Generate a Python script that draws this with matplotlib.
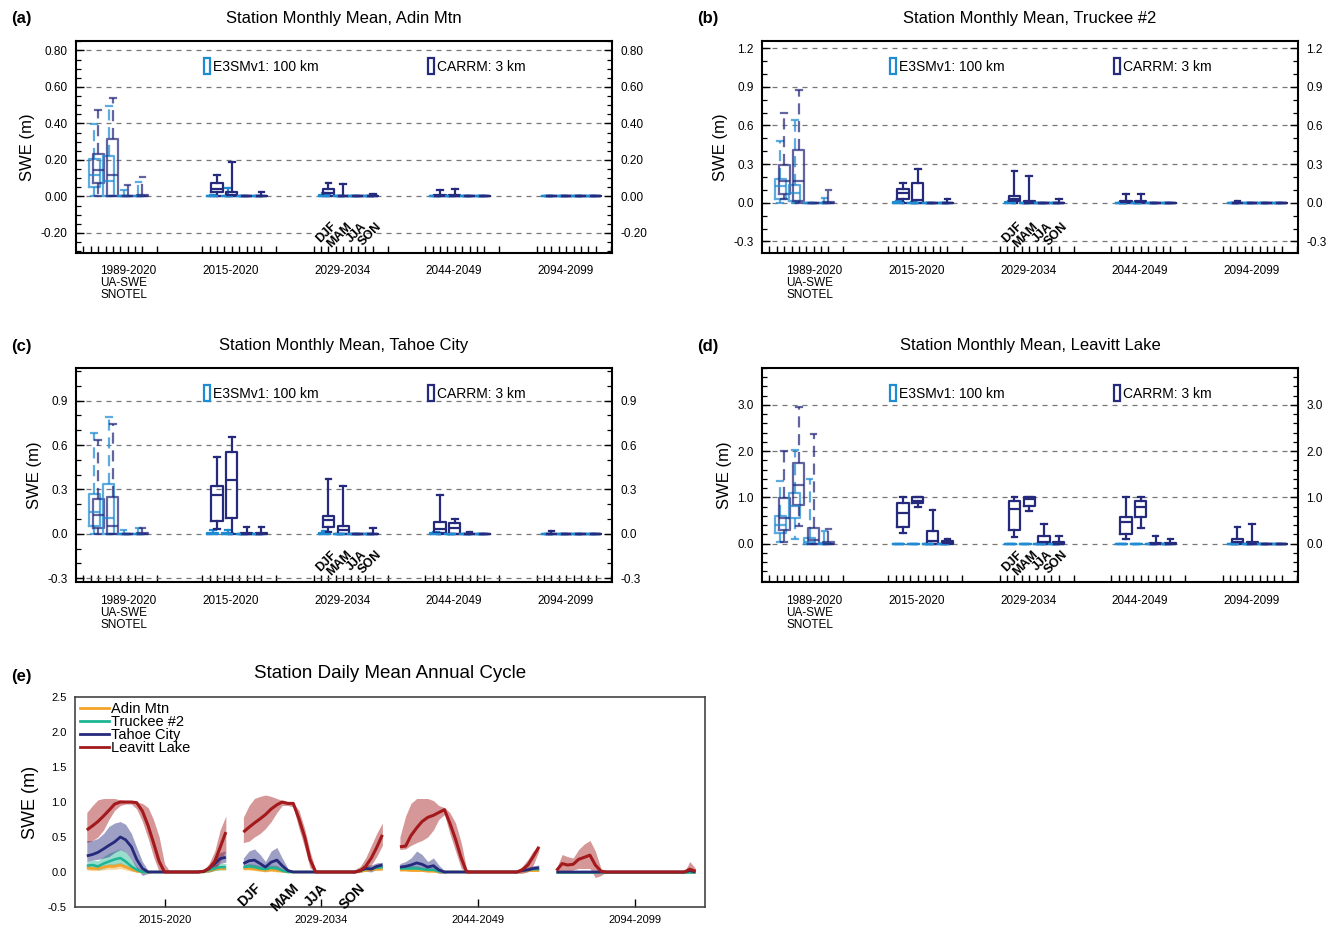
import matplotlib
matplotlib.use('Agg')
import matplotlib.pyplot as plt
from matplotlib.patches import Patch
from matplotlib.lines import Line2D
from matplotlib.legend import Legend
import matplotlib.ticker as mt
from matplotlib.transforms import blended_transform_factory

plt.rcParams['font.family'] = ['Liberation Sans', 'DejaVu Sans']

# ---------------- data ----------------
SEASONS = ["DJF", "MAM", "JJA", "SON"]
PERIOD_LABELS = ["1989-2020\nUA-SWE\nSNOTEL", "2015-2020", "2029-2034", "2044-2049", "2094-2099"]
LINE_PERIODS = ["2015-2020", "2029-2034", "2044-2049", "2094-2099"]

# box stats per period (5) x season (4): [whisker_lo, q1, median, q3, whisker_hi]
# period 0: E3SM column = UA-SWE, CARRM column = SNOTEL
ADIN_E3SM = [
    [[0, .05, .115, .205, .396], [0, 0, .087, .224, .496], [0, 0, 0, 0, .033], [0, 0, 0, .005, .078]],
    [[0, 0, 0, .005, .01], [0, 0, 0, .005, .047], [0, 0, 0, 0, 0], [0, 0, 0, 0, 0]],
    [[0, 0, 0, .01, .02], [0, 0, 0, 0, 0], [0, 0, 0, 0, 0], [0, 0, 0, 0, 0]],
    [[0, 0, 0, 0, .005], [0, 0, 0, 0, 0], [0, 0, 0, 0, 0], [0, 0, 0, 0, 0]],
    [[0, 0, 0, 0, 0], [0, 0, 0, 0, 0], [0, 0, 0, 0, 0], [0, 0, 0, 0, 0]],
]
ADIN_CARRM = [
    [[0, .073, .147, .23, .473], [0, 0, .115, .316, .54], [0, 0, 0, 0, .065], [0, 0, 0, .01, .105]],
    [[0, .024, .042, .073, .12], [0, 0, .009, .024, .187], [0, 0, 0, 0, 0], [0, 0, 0, 0, .022]],
    [[0, .002, .02, .043, .074], [0, 0, 0, .005, .07], [0, 0, 0, 0, 0], [0, 0, 0, 0, .011]],
    [[0, 0, .003, .01, .037], [0, 0, .002, .008, .043], [0, 0, 0, 0, 0], [0, 0, 0, 0, 0]],
    [[0, 0, 0, 0, 0], [0, 0, 0, 0, 0], [0, 0, 0, 0, 0], [0, 0, 0, 0, 0]],
]
TRUCKEE_E3SM = [
    [[0, .026, .128, .184, .48], [0, .013, .077, .14, .643], [0, 0, 0, 0, 0], [0, 0, 0, 0, .038]],
    [[0, 0, 0, .005, .01], [0, 0, 0, 0, .005], [0, 0, 0, 0, 0], [0, 0, 0, 0, 0]],
    [[0, 0, 0, .005, .01], [0, 0, 0, 0, 0], [0, 0, 0, 0, 0], [0, 0, 0, 0, 0]],
    [[0, 0, 0, 0, 0], [0, 0, 0, 0, 0], [0, 0, 0, 0, 0], [0, 0, 0, 0, 0]],
    [[0, 0, 0, 0, 0], [0, 0, 0, 0, 0], [0, 0, 0, 0, 0], [0, 0, 0, 0, 0]],
]
TRUCKEE_CARRM = [
    [[.026, .071, .166, .294, .694], [0, .013, .171, .408, .873], [0, 0, 0, 0, 0], [0, 0, 0, .005, .097]],
    [[0, .033, .077, .107, .153], [0, 0, .02, .15, .26], [0, 0, 0, 0, 0], [0, 0, 0, 0, .03]],
    [[0, .01, .03, .056, .243], [0, 0, 0, .01, .204], [0, 0, 0, 0, 0], [0, 0, 0, 0, .03]],
    [[0, 0, .005, .015, .07], [0, 0, .003, .01, .07], [0, 0, 0, 0, 0], [0, 0, 0, 0, 0]],
    [[0, 0, 0, 0, .01], [0, 0, 0, 0, 0], [0, 0, 0, 0, 0], [0, 0, 0, 0, 0]],
]
TAHOE_E3SM = [
    [[0, .052, .147, .267, .683], [0, 0, .106, .339, .79], [0, 0, 0, 0, .027], [0, 0, 0, 0, .04]],
    [[0, 0, 0, .005, .023], [0, 0, 0, .003, .027], [0, 0, 0, 0, 0], [0, 0, 0, 0, 0]],
    [[0, 0, 0, .003, .018], [0, 0, 0, 0, 0], [0, 0, 0, 0, 0], [0, 0, 0, 0, 0]],
    [[0, 0, 0, .005, .01], [0, 0, 0, 0, 0], [0, 0, 0, 0, 0], [0, 0, 0, 0, 0]],
    [[0, 0, 0, 0, 0], [0, 0, 0, 0, 0], [0, 0, 0, 0, 0], [0, 0, 0, 0, 0]],
]
TAHOE_CARRM = [
    [[0, .041, .129, .238, .633], [0, 0, .052, .247, .742], [0, 0, 0, 0, 0], [0, 0, 0, .005, .04]],
    [[.034, .09, .26, .321, .516], [0, .109, .367, .55, .652], [0, 0, 0, .005, .045], [0, 0, 0, .005, .045]],
    [[.011, .045, .095, .124, .373], [0, 0, .023, .05, .32], [0, 0, 0, 0, 0], [0, 0, 0, 0, .04]],
    [[0, .005, .03, .08, .26], [0, 0, .04, .075, .1], [0, 0, 0, 0, .01], [0, 0, 0, 0, 0]],
    [[0, 0, 0, 0, .02], [0, 0, 0, 0, 0], [0, 0, 0, 0, 0], [0, 0, 0, 0, 0]],
]
LEAVITT_E3SM = [
    [[.03, .23, .41, .6, 1.35], [.095, .56, .82, 1.09, 2.03], [0, 0, .04, .13, 1.4], [0, 0, 0, .02, .28]],
    [[0, 0, 0, 0, 0], [0, 0, 0, 0, 0], [0, 0, 0, 0, 0], [0, 0, 0, 0, 0]],
    [[0, 0, 0, 0, 0], [0, 0, 0, 0, 0], [0, 0, 0, 0, 0], [0, 0, 0, 0, 0]],
    [[0, 0, 0, 0, 0], [0, 0, 0, 0, 0], [0, 0, 0, 0, 0], [0, 0, 0, 0, 0]],
    [[0, 0, 0, 0, 0], [0, 0, 0, 0, 0], [0, 0, 0, 0, 0], [0, 0, 0, 0, 0]],
]
LEAVITT_CARRM = [
    [[.045, .3, .56, .985, 2.0], [.375, .84, 1.27, 1.75, 2.95], [0, 0, .07, .34, 2.38], [0, 0, 0, .04, .32]],
    [[.22, .37, .67, .87, 1.0], [.8, .88, .93, 1.0, 1.0], [0, 0, .05, .27, .73], [0, 0, .01, .05, .1]],
    [[.14, .285, .746, .93, 1.0], [.7, .81, .97, 1.0, 1.0], [0, 0, .03, .16, .42], [0, 0, 0, .04, .17]],
    [[.11, .2, .47, .585, 1.0], [.34, .585, .8, .93, 1.0], [0, 0, 0, .01, .175], [0, 0, 0, .01, .1]],
    [[0, 0, .03, .095, .36], [0, 0, 0, .03, .42], [0, 0, 0, 0, 0], [0, 0, 0, 0, 0]],
]

# daily annual cycle: sample day of the period-year, and per period (4) mean / lower / upper
DAYS = [0, 15, 29, 44, 58, 73, 88, 102, 117, 131, 146, 161, 175, 190, 204, 219, 234, 248, 263, 277,
        292, 307, 321, 336, 350, 365]

ADIN_MEAN = [
    [.06, .05, .05, .07, .08, .08, .10, .07, .04, .01, 0, 0, 0, 0, 0, 0, 0, 0, 0, 0, 0, 0, .02, .04, .05, .05],
    [.05, .05, .04, .03, .02, .03, .02, .01, 0, 0, 0, 0, 0, 0, 0, 0, 0, 0, 0, 0, 0, .01, .02, .03, .04, .04],
    [.03, .03, .02, .02, .02, .01, .01, 0, 0, 0, 0, 0, 0, 0, 0, 0, 0, 0, 0, 0, 0, 0, .01, .02, .02, .02],
    [0, 0, 0, 0, 0, 0, 0, 0, 0, 0, 0, 0, 0, 0, 0, 0, 0, 0, 0, 0, 0, 0, 0, 0, 0, 0],
]
ADIN_LO = [
    [.03, .02, .02, .03, .04, .04, .05, .03, .01, 0, 0, 0, 0, 0, 0, 0, 0, 0, 0, 0, 0, 0, 0, .02, .03, .03],
    [.03, .03, .02, .01, 0, .01, 0, 0, 0, 0, 0, 0, 0, 0, 0, 0, 0, 0, 0, 0, 0, 0, .01, .02, .02, .02],
    [.01, .01, .01, .01, .01, 0, 0, 0, 0, 0, 0, 0, 0, 0, 0, 0, 0, 0, 0, 0, 0, 0, 0, .01, .01, .01],
    [0, 0, 0, 0, 0, 0, 0, 0, 0, 0, 0, 0, 0, 0, 0, 0, 0, 0, 0, 0, 0, 0, 0, 0, 0, 0],
]
ADIN_HI = [
    [.09, .08, .08, .10, .12, .12, .14, .10, .07, .03, .01, 0, 0, 0, 0, 0, 0, 0, 0, 0, 0, 0, .04, .06, .07, .07],
    [.07, .07, .06, .05, .04, .05, .04, .02, .01, 0, 0, 0, 0, 0, 0, 0, 0, 0, 0, 0, 0, .02, .03, .04, .05, .05],
    [.05, .05, .04, .04, .04, .03, .03, .01, 0, 0, 0, 0, 0, 0, 0, 0, 0, 0, 0, 0, 0, 0, .02, .03, .03, .03],
    [0, 0, 0, 0, 0, 0, 0, 0, 0, 0, 0, 0, 0, 0, 0, 0, 0, 0, 0, 0, 0, 0, 0, 0, 0, 0],
]
TRUCKEE_MEAN = [
    [.09, .10, .08, .12, .15, .18, .20, .15, .08, .03, 0, 0, 0, 0, 0, 0, 0, 0, 0, 0, 0, 0, .03, .05, .07, .07],
    [.07, .08, .07, .05, .04, .06, .05, .02, 0, 0, 0, 0, 0, 0, 0, 0, 0, 0, 0, 0, 0, .02, .04, .05, .06, .07],
    [.05, .05, .05, .05, .04, .03, .03, .01, 0, 0, 0, 0, 0, 0, 0, 0, 0, 0, 0, 0, 0, 0, .02, .03, .04, .04],
    [0, 0, 0, 0, 0, 0, 0, 0, 0, 0, 0, 0, 0, 0, 0, 0, 0, 0, 0, 0, 0, 0, 0, 0, 0, 0],
]
TRUCKEE_LO = [
    [.04, .05, .03, .05, .08, .10, .10, .07, .02, 0, 0, 0, 0, 0, 0, 0, 0, 0, 0, 0, 0, 0, 0, .02, .03, .03],
    [.04, .05, .04, .02, .01, .03, .02, 0, 0, 0, 0, 0, 0, 0, 0, 0, 0, 0, 0, 0, 0, 0, .02, .03, .03, .04],
    [.03, .03, .03, .03, .02, .01, .01, 0, 0, 0, 0, 0, 0, 0, 0, 0, 0, 0, 0, 0, 0, 0, 0, .01, .02, .02],
    [0, 0, 0, 0, 0, 0, 0, 0, 0, 0, 0, 0, 0, 0, 0, 0, 0, 0, 0, 0, 0, 0, 0, 0, 0, 0],
]
TRUCKEE_HI = [
    [.15, .17, .16, .22, .27, .30, .33, .28, .18, .08, .02, 0, 0, 0, 0, 0, 0, 0, 0, 0, 0, 0, .06, .10, .12, .12],
    [.10, .12, .11, .09, .08, .10, .09, .05, .01, 0, 0, 0, 0, 0, 0, 0, 0, 0, 0, 0, 0, .04, .07, .08, .09, .10],
    [.08, .08, .09, .09, .07, .06, .06, .03, .01, 0, 0, 0, 0, 0, 0, 0, 0, 0, 0, 0, 0, 0, .04, .05, .06, .06],
    [0, 0, 0, 0, 0, 0, 0, 0, 0, 0, 0, 0, 0, 0, 0, 0, 0, 0, 0, 0, 0, 0, 0, 0, 0, 0],
]
TAHOE_MEAN = [
    [.23, .25, .28, .33, .38, .43, .50, .46, .36, .18, .05, 0, 0, 0, 0, 0, 0, 0, 0, 0, 0, .01, .05, .12, .19, .21],
    [.12, .16, .17, .12, .07, .14, .17, .09, .02, 0, 0, 0, 0, 0, 0, 0, 0, 0, 0, 0, 0, .02, .05, .04, .08, .10],
    [.07, .08, .10, .13, .11, .07, .09, .03, 0, 0, 0, 0, 0, 0, 0, 0, 0, 0, 0, 0, 0, 0, .02, .03, .05, .06],
    [0, 0, 0, 0, 0, 0, 0, 0, 0, 0, 0, 0, 0, 0, 0, 0, 0, 0, 0, 0, 0, 0, 0, 0, .02, 0],
]
TAHOE_LO = [
    [.15, .17, .18, .20, .22, .28, .32, .28, .18, .05, -.05, -.02, 0, 0, 0, 0, 0, 0, 0, 0, 0, 0, .02, .06, .12, .14],
    [.06, .08, .08, .05, .02, .06, .06, .03, 0, 0, 0, 0, 0, 0, 0, 0, 0, 0, 0, 0, 0, 0, .01, 0, .04, .06],
    [.02, .03, .04, .05, .04, .01, .02, -.02, -.02, 0, 0, 0, 0, 0, 0, 0, 0, 0, 0, 0, 0, 0, 0, .01, .02, .03],
    [0, 0, 0, 0, 0, 0, 0, 0, 0, 0, 0, 0, 0, 0, 0, 0, 0, 0, 0, 0, 0, 0, 0, 0, -.01, 0],
]
TAHOE_HI = [
    [.45, .45, .48, .55, .65, .70, .72, .68, .55, .35, .15, .02, 0, 0, 0, 0, 0, 0, 0, 0, 0, .03, .10, .20, .28, .30],
    [.20, .30, .33, .25, .15, .30, .35, .20, .05, 0, 0, 0, 0, 0, 0, 0, 0, 0, 0, 0, 0, .05, .10, .10, .13, .14],
    [.12, .15, .20, .30, .25, .15, .20, .10, .02, 0, 0, 0, 0, 0, 0, 0, 0, 0, 0, 0, 0, 0, .05, .07, .09, .10],
    [0, 0, 0, 0, 0, 0, 0, 0, 0, 0, 0, 0, 0, 0, 0, 0, 0, 0, 0, 0, 0, 0, 0, 0, .05, .02],
]
LEAVITT_MEAN = [
    [.60, .66, .72, .80, .88, .97, 1.0, 1.0, 1.0, .99, .87, .66, .42, .15, 0, 0, 0, 0, 0, 0, 0, .01, .05, .15, .35, .57],
    [.57, .64, .70, .76, .82, .90, .96, 1.0, .98, .98, .76, .50, .18, 0, 0, 0, 0, 0, 0, 0, 0, .02, .08, .20, .35, .53],
    [.36, .37, .52, .63, .72, .78, .81, .85, .89, .70, .47, .20, 0, 0, 0, 0, 0, 0, 0, 0, 0, 0, .03, .10, .22, .36],
    [.02, .12, .10, .11, .18, .21, .24, .10, .01, 0, 0, 0, 0, 0, 0, 0, 0, 0, 0, 0, 0, 0, 0, 0, .04, .01],
]
LEAVITT_LO = [
    [.42, .45, .50, .60, .75, .88, .95, .97, .97, .90, .72, .48, .22, 0, 0, 0, 0, 0, 0, 0, 0, 0, 0, .03, .15, .30],
    [.42, .44, .50, .55, .62, .72, .85, .95, .95, .93, .62, .35, .06, 0, 0, 0, 0, 0, 0, 0, -.02, 0, .02, .10, .22, .38],
    [.32, .33, .38, .42, .45, .50, .60, .75, .82, .55, .30, .05, 0, 0, 0, 0, 0, 0, 0, 0, 0, -.02, -.02, 0, .10, .30],
    [0, .02, 0, .03, .05, .05, .05, -.08, -.05, 0, 0, 0, 0, 0, 0, 0, 0, 0, 0, 0, 0, 0, 0, 0, -.02, -.01],
]
LEAVITT_HI = [
    [.85, .95, 1.03, 1.05, 1.05, 1.05, 1.03, 1.02, 1.01, 1.0, .98, .92, .75, .50, .12, 0, 0, 0, 0, 0, 0, .03, .12, .30, .60, .80],
    [.78, .95, 1.05, 1.08, 1.10, 1.08, 1.05, 1.02, 1.0, .99, .88, .62, .30, .02, 0, 0, 0, 0, 0, 0, .03, .08, .20, .38, .55, .70],
    [.50, .80, .98, 1.05, 1.05, 1.05, 1.02, .95, .92, .85, .70, .42, .05, 0, 0, 0, 0, 0, 0, 0, 0, .02, .08, .18, .30, .38],
    [.05, .25, .22, .20, .32, .40, .45, .30, .05, 0, 0, 0, 0, 0, 0, 0, 0, 0, 0, 0, 0, 0, 0, 0, .15, .05],
]

# ---------------- style ----------------
C_E3SM = '#1f8bd3'
C_CARRM = '#262a7c'
C_ADIN = '#f5a328'
C_TRUCKEE = '#1db594'
C_TAHOE = '#262a7c'
C_LEAVITT = '#a3191c'

W, H = 1341, 926
fig = plt.figure(figsize=(W / 100, H / 100), dpi=100)


def ax_px(x0, y0, x1, y1):
    return fig.add_axes([x0 / W, 1 - y1 / H, (x1 - x0) / W, (y1 - y0) / H])


GROUP_START = [1.0, 17.1, 32.2, 47.3, 62.4]
XMAX = 72.6
BOXW = 1.5
E3SM_OFF = -0.55


def box_panel(ax, e3sm, carrm, ylim, major, minor, fmt, title, letter, lpos):
    ax.set_xlim(0, XMAX)
    ax.set_ylim(*ylim)
    ax.set_axisbelow(True)
    ax.yaxis.set_major_locator(mt.MultipleLocator(major))
    ax.yaxis.set_minor_locator(mt.MultipleLocator(minor))
    ax.yaxis.set_major_formatter(mt.FormatStrFormatter(fmt))
    ax.yaxis.grid(True, which='major', linestyle=(0, (4, 4)), color='#777777', lw=0.9)
    for g in range(5):
        alpha = 0.72 if g == 0 else 1.0
        wls = (0, (5, 3)) if g == 0 else '-'
        for s in range(4):
            xc = GROUP_START[g] + 2 * (s + 1)
            for data, off, col in ((e3sm, E3SM_OFF, C_E3SM), (carrm, 0.0, C_CARRM)):
                lo, q1, med, q3, hi = data[g][s]
                st = dict(whislo=lo, q1=q1, med=med, q3=q3, whishi=hi)
                lp = dict(color=col, lw=1.6, alpha=alpha)
                ax.bxp([st], positions=[xc + off], widths=BOXW, showfliers=False,
                       capwidths=0.75, manage_ticks=False,
                       boxprops=lp, medianprops=lp, capprops=lp,
                       whiskerprops=dict(color=col, lw=1.6, alpha=alpha, linestyle=wls))
    # x ticks
    minor_pos = []
    for g in range(5):
        minor_pos += [GROUP_START[g] + k for k in (0, 1, 2, 3, 4, 5, 6, 7, 8, 10)]
    ax.set_xticks(minor_pos, minor=True)
    label_pos = [7.1] + [GROUP_START[g] + 3.9 for g in range(1, 5)]
    ax.set_xticks(label_pos)
    ax.set_xticklabels(PERIOD_LABELS, fontsize=8.5)
    for t in ax.get_xticklabels():
        t.set_multialignment('left')
        t.set_linespacing(1.0)
    ax.tick_params(axis='x', which='major', length=0, pad=9)
    ax.tick_params(axis='x', which='minor', direction='in', length=5, width=1.0, top=False)
    ax.tick_params(axis='y', which='major', direction='in', length=6, width=1.0,
                   left=True, right=True, labelleft=True, labelright=True, labelsize=8.5, pad=6)
    ax.tick_params(axis='y', which='minor', direction='in', length=3.5, width=0.9, left=True, right=True)
    for sp in ax.spines.values():
        sp.set_linewidth(1.5)
    ax.set_ylabel('SWE (m)', fontsize=12, labelpad=4)
    ax.set_title(title, fontsize=12, pad=13)
    # season labels under group 3
    tr = blended_transform_factory(ax.transData, ax.transAxes)
    for s, name in enumerate(SEASONS):
        xc = GROUP_START[2] + 2 * (s + 1) + 0.9
        ax.text(xc, 0.135, name, transform=tr, rotation=45, rotation_mode='anchor',
                ha='right', va='center', fontsize=9, fontweight='bold')
    # legend entries (two separate keys)
    for lab, col, xf in (("E3SMv1: 100 km", C_E3SM, lpos[0]), ("CARRM: 3 km", C_CARRM, lpos[1])):
        leg = Legend(ax, [Patch(facecolor='none', edgecolor=col, lw=1.6)], [lab],
                     loc='center left', bbox_to_anchor=(xf, 0.882), frameon=False,
                     fontsize=10, handlelength=0.45, handleheight=1.45, handletextpad=0.25,
                     borderpad=0, borderaxespad=0)
        ax.add_artist(leg)
    fig.text(letter[0] / W, 1 - letter[1] / H, letter[2], fontsize=12, fontweight='bold',
             ha='left', va='center')


axa = ax_px(76, 41, 612, 253)
box_panel(axa, ADIN_E3SM, ADIN_CARRM, (-0.31, 0.852), 0.2, 0.05, '%.2f',
          'Station Monthly Mean, Adin Mtn', (11, 18, '(a)'), (0.238, 0.656))
axb = ax_px(762, 41, 1298, 253)
box_panel(axb, TRUCKEE_E3SM, TRUCKEE_CARRM, (-0.39, 1.256), 0.3, 0.1, '%.1f',
          'Station Monthly Mean, Truckee #2', (697, 18, '(b)'), (0.238, 0.656))
axc = ax_px(76, 368, 612, 582)
box_panel(axc, TAHOE_E3SM, TAHOE_CARRM, (-0.325, 1.12), 0.3, 0.1, '%.1f',
          'Station Monthly Mean, Tahoe City', (11, 346, '(c)'), (0.238, 0.656))
axd = ax_px(762, 368, 1298, 582)
box_panel(axd, LEAVITT_E3SM, LEAVITT_CARRM, (-0.83, 3.8), 1.0, 0.2, '%.1f',
          'Station Monthly Mean, Leavitt Lake', (697, 346, '(d)'), (0.238, 0.656))

# ---------------- panel (e) ----------------
axe = ax_px(75, 697, 705, 907)
SEG = 411
axe.set_xlim(-31, 1623)
axe.set_ylim(-0.5, 2.5)
stations = [
    ("Adin Mtn", C_ADIN, ADIN_MEAN, ADIN_LO, ADIN_HI, 1.8),
    ("Truckee #2", C_TRUCKEE, TRUCKEE_MEAN, TRUCKEE_LO, TRUCKEE_HI, 1.8),
    ("Tahoe City", C_TAHOE, TAHOE_MEAN, TAHOE_LO, TAHOE_HI, 2.0),
    ("Leavitt Lake", C_LEAVITT, LEAVITT_MEAN, LEAVITT_LO, LEAVITT_HI, 2.2),
]
handles = []
for name, col, mean, lo, hi, lw in stations:
    for k in range(4):
        x = [k * SEG + d for d in DAYS]
        axe.fill_between(x, lo[k], hi[k], color=col, alpha=0.45, lw=0)
        axe.plot(x, mean[k], color=col, lw=lw, solid_capstyle='butt')
    handles.append(Line2D([], [], color=col, lw=2.0))
axe.legend(handles, [s[0] for s in stations], loc='upper left', bbox_to_anchor=(0.0, 1.0),
           frameon=False, fontsize=10.5, handlelength=2.0, handletextpad=0.15,
           labelspacing=-0.08, borderpad=0.2, borderaxespad=0.15)
axe.set_xticks([k * SEG + 205 for k in range(4)])
axe.set_xticklabels(LINE_PERIODS, fontsize=8)
axe.set_yticks([-0.5, 0.0, 0.5, 1.0, 1.5, 2.0, 2.5])
axe.yaxis.set_major_formatter(mt.FormatStrFormatter('%.1f'))
axe.tick_params(axis='x', direction='in', length=6, width=1.0, pad=6, top=False)
axe.tick_params(axis='y', direction='in', length=0, labelsize=8, pad=6)
for sp in axe.spines.values():
    sp.set_linewidth(1.2)
    sp.set_color('#444444')
axe.set_ylabel('SWE (m)', fontsize=13, labelpad=6)
axe.set_title('Station Daily Mean Annual Cycle', fontsize=13.5, pad=14)
for day, name in zip([40, 140, 215, 315], SEASONS):
    axe.text(SEG + day, -0.2, name, rotation=45, rotation_mode='anchor', ha='right', va='center',
             fontsize=10, fontweight='bold')
fig.text(11 / W, 1 - 676 / H, '(e)', fontsize=12, fontweight='bold', ha='left', va='center')

fig.savefig('out.png', dpi=100)
